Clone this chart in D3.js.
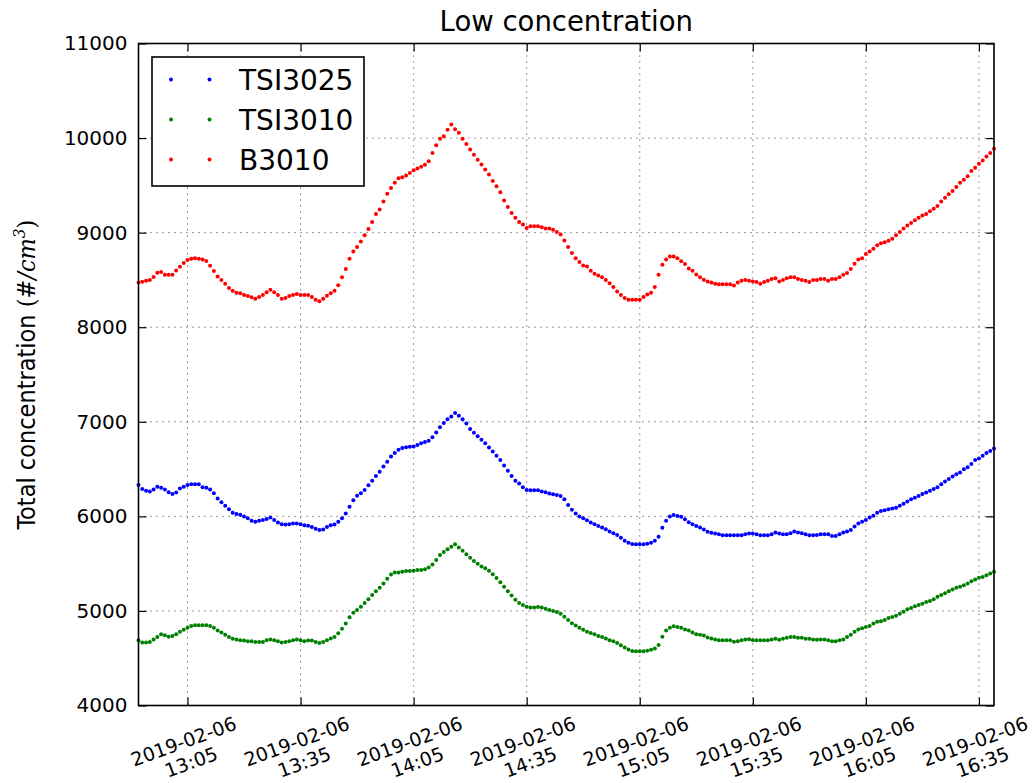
<!DOCTYPE html>
<html>
<head>
<meta charset="utf-8">
<script src="https://cdn.jsdelivr.net/npm/d3@7"></script>
<style>
  html, body { margin: 0; padding: 0; background: #fff; }
  svg { display: block; font-family: "DejaVu Sans", sans-serif; }
</style>
</head>
<body>
<svg id="chart" width="1033" height="783"></svg>
<script>
// ---------------- data ----------------
const startTime = "2019-02-06 12:52";   // first sample
const sampleMinutes = 1;                // one sample per minute
const seriesNames = ["TSI3025", "TSI3010", "B3010"];
const seriesColors = ["#0000ff", "#008000", "#ff0000"];

const tsi3025 = [
  6332,6290,6271,6264,6283,6313,6302,6283,6256,6237,
  6252,6294,6313,6332,6339,6339,6339,6309,6302,6283,
  6245,6188,6150,6113,6075,6037,6026,6018,5999,5981,
  5954,5943,5954,5962,5973,5988,5962,5935,5917,5913,
  5917,5924,5924,5917,5905,5900,5887,5868,5856,5860,
  5887,5905,5913,5943,5981,6030,6101,6169,6218,6245,
  6279,6328,6377,6426,6471,6528,6577,6634,6671,6705,
  6724,6732,6735,6739,6754,6773,6785,6800,6837,6887,
  6943,6988,7026,7056,7094,7064,7026,6981,6924,6883,
  6847,6809,6773,6728,6686,6641,6596,6539,6483,6426,
  6377,6347,6309,6279,6275,6275,6275,6264,6256,6241,
  6234,6226,6215,6181,6120,6071,6030,5999,5981,5958,
  5935,5917,5898,5883,5864,5841,5822,5803,5773,5743,
  5720,5709,5705,5705,5705,5711,5720,5743,5784,5879,
  5954,5999,6015,6003,5996,5969,5939,5917,5898,5883,
  5860,5837,5826,5818,5811,5800,5800,5800,5800,5800,
  5800,5811,5818,5818,5811,5800,5800,5800,5811,5830,
  5818,5811,5811,5822,5841,5830,5822,5811,5800,5800,
  5803,5811,5811,5811,5792,5792,5811,5830,5841,5856,
  5894,5924,5943,5962,5988,6007,6037,6056,6064,6075,
  6083,6090,6113,6132,6158,6181,6196,6215,6237,6252,
  6271,6290,6309,6339,6369,6396,6422,6445,6464,6498,
  6520,6554,6596,6611,6641,6671,6690,6717
];

const tsi3010 = [
  4690,4667,4667,4671,4697,4724,4754,4743,4728,4735,
  4754,4781,4800,4822,4841,4849,4849,4849,4849,4841,
  4822,4792,4773,4747,4724,4705,4697,4690,4686,4679,
  4679,4671,4671,4671,4690,4697,4690,4679,4667,4671,
  4679,4690,4697,4690,4679,4686,4686,4671,4660,4671,
  4690,4709,4724,4765,4811,4867,4932,4981,5011,5045,
  5083,5124,5169,5207,5245,5290,5339,5384,5407,5407,
  5415,5422,5422,5426,5434,5434,5441,5460,5490,5539,
  5592,5622,5652,5679,5705,5671,5637,5600,5562,5528,
  5498,5470,5452,5426,5388,5347,5302,5256,5207,5162,
  5117,5083,5064,5045,5037,5037,5041,5037,5022,5011,
  5000,4988,4969,4939,4905,4871,4845,4822,4800,4781,
  4766,4754,4735,4724,4709,4690,4679,4660,4637,4614,
  4592,4577,4573,4573,4573,4580,4590,4603,4641,4728,
  4792,4822,4837,4830,4822,4803,4792,4773,4754,4747,
  4739,4720,4709,4697,4690,4690,4690,4690,4675,4679,
  4690,4697,4701,4690,4690,4690,4690,4690,4697,4705,
  4694,4705,4716,4724,4724,4716,4716,4705,4705,4697,
  4695,4697,4697,4690,4679,4679,4690,4697,4724,4747,
  4781,4803,4818,4830,4841,4867,4886,4890,4905,4924,
  4935,4950,4969,4992,5018,5030,5049,5064,5075,5094,
  5105,5124,5150,5169,5188,5207,5226,5245,5256,5271,
  5290,5313,5332,5350,5358,5377,5396,5415
];

const b3010 = [
  8472,8480,8490,8500,8530,8577,8585,8555,8555,8555,
  8600,8640,8680,8710,8725,8730,8725,8717,8700,8650,
  8595,8535,8500,8460,8415,8385,8365,8360,8340,8330,
  8317,8302,8320,8340,8370,8395,8370,8340,8302,8310,
  8330,8340,8350,8340,8340,8340,8320,8290,8275,8302,
  8332,8358,8385,8445,8528,8615,8724,8800,8849,8906,
  8973,9038,9113,9196,9245,9328,9411,9472,9528,9574,
  9585,9604,9630,9660,9679,9698,9717,9755,9841,9925,
  9992,10019,10087,10143,10094,10057,9992,9936,9879,9823,
  9770,9720,9668,9615,9547,9491,9426,9340,9272,9207,
  9158,9113,9087,9049,9068,9068,9068,9057,9045,9045,
  9030,9007,8981,8917,8849,8785,8728,8690,8653,8641,
  8596,8566,8547,8528,8498,8464,8426,8377,8340,8309,
  8290,8290,8290,8290,8320,8345,8365,8426,8555,8660,
  8717,8747,8747,8728,8698,8668,8622,8596,8558,8528,
  8502,8483,8472,8460,8453,8453,8453,8453,8441,8472,
  8490,8498,8490,8483,8479,8460,8479,8490,8509,8517,
  8483,8498,8517,8528,8528,8509,8498,8490,8479,8498,
  8500,8509,8509,8490,8509,8509,8528,8555,8573,8615,
  8672,8717,8728,8774,8800,8830,8868,8887,8898,8913,
  8936,8973,9007,9045,9075,9102,9132,9158,9181,9196,
  9226,9253,9283,9328,9370,9407,9441,9483,9528,9558,
  9596,9653,9687,9728,9762,9804,9841,9887
];

const xTickTimes = ["13:05","13:35","14:05","14:35","15:05","15:35","16:05","16:35"];
const xTickDate = "2019-02-06";
const yTicks = [4000,5000,6000,7000,8000,9000,10000,11000];
const titleText = "Low concentration";

// ---------------- layout ----------------
const svg = d3.select("#chart");
const pLeft = 138.5, pRight = 994, pTop = 43.5, pBottom = 705.5;
const parse = d3.timeParse("%Y-%m-%d %H:%M");
const t0 = parse(startTime);
const allSeries = [tsi3025, tsi3010, b3010];
const nPts = tsi3025.length;
const times = d3.range(nPts).map(i => d3.timeMinute.offset(t0, i * sampleMinutes));

const x = d3.scaleTime().domain([times[0], times[nPts - 1]]).range([pLeft, pRight]);
const y = d3.scaleLinear().domain([4000, 11000]).range([pBottom, pTop]);
const tickDates = xTickTimes.map(t => parse(xTickDate + " " + t));

// grid
const grid = svg.append("g");
grid.selectAll("line.gx").data(tickDates).enter().append("line")
  .attr("x1", d => x(d)).attr("x2", d => x(d))
  .attr("y1", pTop).attr("y2", pBottom)
  .attr("stroke", "#000").attr("stroke-width", 0.8).attr("stroke-dasharray", "1,5");
grid.selectAll("line.gy").data(yTicks.slice(1, -1)).enter().append("line")
  .attr("x1", pLeft).attr("x2", pRight)
  .attr("y1", d => y(d)).attr("y2", d => y(d))
  .attr("stroke", "#000").attr("stroke-width", 0.8).attr("stroke-dasharray", "1,5");

// data points
allSeries.forEach((vals, si) => {
  svg.append("g").selectAll("circle").data(vals).enter().append("circle")
    .attr("cx", (d, i) => x(times[i]))
    .attr("cy", d => y(d))
    .attr("r", 2)
    .attr("fill", seriesColors[si]);
});

// axes with inward ticks on all sides
const tickLen = 8;
const axB = svg.append("g").attr("transform", `translate(0,${pBottom})`)
  .call(d3.axisBottom(x).tickValues(tickDates).tickSizeInner(-tickLen).tickSizeOuter(0).tickFormat(""));
const axT = svg.append("g").attr("transform", `translate(0,${pTop})`)
  .call(d3.axisTop(x).tickValues(tickDates).tickSizeInner(-tickLen).tickSizeOuter(0).tickFormat(""));
const axL = svg.append("g").attr("transform", `translate(${pLeft},0)`)
  .call(d3.axisLeft(y).tickValues(yTicks).tickSizeInner(-tickLen).tickSizeOuter(0).tickPadding(11)
    .tickFormat(d3.format("d")));
const axR = svg.append("g").attr("transform", `translate(${pRight},0)`)
  .call(d3.axisRight(y).tickValues(yTicks).tickSizeInner(-tickLen).tickSizeOuter(0).tickFormat(""));
[axB, axT, axL, axR].forEach(a => {
  a.select(".domain").remove();
  a.selectAll(".tick line").attr("stroke", "#000").attr("stroke-width", 1.2);
});
axL.selectAll(".tick text").attr("font-size", 20).attr("fill", "#000")
  .attr("font-family", "DejaVu Sans");

// x tick labels: two lines, rotated
const xl = svg.append("g").selectAll("g").data(tickDates).enter().append("g")
  .attr("transform", d => `translate(${x(d)},752) rotate(-20)`);
xl.append("text").attr("text-anchor", "middle").attr("font-size", 19).attr("fill", "#000")
  .attr("x", 0).attr("y", -4.5).text(xTickDate);
xl.append("text").attr("text-anchor", "middle").attr("font-size", 19).attr("fill", "#000")
  .attr("x", 0).attr("y", 17.5).text(d => d3.timeFormat("%H:%M")(d));

// frame
svg.append("rect").attr("x", pLeft).attr("y", pTop)
  .attr("width", pRight - pLeft).attr("height", pBottom - pTop)
  .attr("fill", "none").attr("stroke", "#000").attr("stroke-width", 1.6);

// title
svg.append("text").attr("x", (pLeft + pRight) / 2).attr("y", 31)
  .attr("text-anchor", "middle").attr("font-size", 27.5).attr("fill", "#000").text(titleText);

// y label
const yl = svg.append("text")
  .attr("transform", `translate(35,${(pTop + pBottom) / 2}) rotate(-90)`)
  .attr("text-anchor", "middle").attr("font-size", 25).attr("fill", "#000")
  .attr("font-family", "DejaVu Sans Condensed, DejaVu Sans");
yl.append("tspan").text("Total concentration ");
yl.append("tspan").attr("font-family", "DejaVu Serif Condensed, DejaVu Serif").text("(");
yl.append("tspan").attr("font-family", "DejaVu Serif Condensed, DejaVu Serif").attr("font-style", "italic").text("#/cm");
yl.append("tspan").attr("font-family", "DejaVu Serif Condensed, DejaVu Serif").attr("font-style", "italic")
  .attr("font-size", 17).attr("dy", -10).text("3");
yl.append("tspan").attr("font-family", "DejaVu Serif Condensed, DejaVu Serif").attr("dy", 10).text(")");

// legend
const lg = svg.append("g");
lg.append("rect").attr("x", 152).attr("y", 57).attr("width", 212).attr("height", 129)
  .attr("fill", "#fff").attr("stroke", "#000").attr("stroke-width", 1.6);
const rows = [0, 1, 2];
const lr = lg.selectAll("g.row").data(rows).enter().append("g")
  .attr("transform", i => `translate(0,${79.5 + i * 40})`);
lr.append("circle").attr("cx", 171).attr("cy", 0).attr("r", 2).attr("fill", i => seriesColors[i]);
lr.append("circle").attr("cx", 209.5).attr("cy", 0).attr("r", 2).attr("fill", i => seriesColors[i]);
lr.append("text").attr("x", 239).attr("y", 10).attr("font-size", 28).attr("fill", "#000")
  .text(i => seriesNames[i]);
</script>
</body>
</html>
